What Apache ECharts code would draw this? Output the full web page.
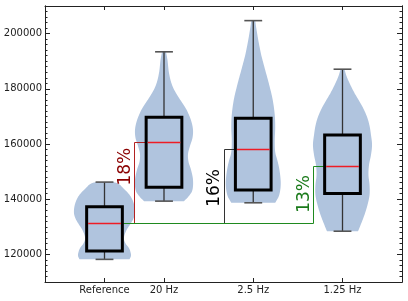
<!DOCTYPE html>
<html><head><meta charset="utf-8">
<script src="https://cdn.jsdelivr.net/npm/echarts@6/dist/echarts.min.js"></script>
<style>html,body{margin:0;padding:0;background:#fff}#c{width:408px;height:301px}</style>
</head><body><div id="c"></div>
<script>
// ---- data ----
const categories = ['Reference', '20 Hz', '2.5 Hz', '1.25 Hz'];
const positions = [1 / 3, 1, 2, 3];
const whiskerLow = [118200, 139300, 138700, 128400];
const q1 = [121200, 144300, 143300, 142100];
const medians = [131300, 160800, 158100, 151900];
const q3 = [137300, 169700, 169300, 163300];
const whiskerHigh = [146200, 193400, 204700, 187100];
const yTickLabels = [120000, 140000, 160000, 180000, 200000];

// violin outlines: value levels and half-widths (x-axis units)
const violinRefValues = [146200, 145500, 144000, 142000, 140000, 137500, 135000, 133000, 131000, 129000, 127000, 125500, 124000, 122500, 121000, 119500, 118200];
const violinRefWidths = [0.10, 0.16, 0.21, 0.27, 0.31, 0.336, 0.342, 0.325, 0.29, 0.25, 0.224, 0.218, 0.235, 0.27, 0.29, 0.297, 0.28];
const violin20Values = [193400, 190400, 185700, 181400, 177800, 173400, 170500, 168000, 165100, 162200, 159300, 156400, 153500, 150600, 147000, 143400, 141200, 139300];
const violin20Widths = [0.022, 0.039, 0.056, 0.09, 0.146, 0.235, 0.28, 0.308, 0.325, 0.319, 0.291, 0.269, 0.275, 0.303, 0.325, 0.319, 0.28, 0.224];
const violin25Values = [204700, 202000, 197700, 192200, 186800, 181400, 176000, 170500, 165800, 161500, 157100, 153500, 149900, 145500, 141500, 138700];
const violin25Widths = [0.022, 0.034, 0.056, 0.09, 0.134, 0.179, 0.218, 0.241, 0.246, 0.241, 0.246, 0.275, 0.297, 0.308, 0.291, 0.246];
const violin125Values = [187100, 184600, 182100, 178800, 176000, 173100, 169800, 166600, 163300, 159700, 156000, 152400, 148800, 145200, 141500, 137900, 134300, 131000, 128400];
const violin125Widths = [0.022, 0.045, 0.078, 0.129, 0.179, 0.23, 0.275, 0.303, 0.319, 0.331, 0.319, 0.297, 0.291, 0.303, 0.303, 0.28, 0.246, 0.207, 0.174];

const pctLabels = ['18%', '16%', '13%'];
const pctLabelValues = [151800, 144100, 141900];
const pctTextColors = ['#8b0000', '#000000', '#1a7a1a'];
const bracketColors = ['#b22222', '#333333', '#1f8a1f'];

// ---- rendering ----
const violinValues = [violinRefValues, violin20Values, violin25Values, violin125Values];
const violinWidths = [violinRefWidths, violin20Widths, violin25Widths, violin125Widths];
const BOX_HW = 0.2, CAP_HW = 0.1;
const FONT = '"DejaVu Sans", sans-serif';

function catmull(pts, n) {
  const out = [];
  for (let i = 0; i < pts.length - 1; i++) {
    const p0 = pts[Math.max(i - 1, 0)], p1 = pts[i], p2 = pts[i + 1], p3 = pts[Math.min(i + 2, pts.length - 1)];
    for (let s = 0; s < n; s++) {
      const t = s / n, t2 = t * t, t3 = t2 * t;
      const f = (a, b, c, d) => 0.5 * (2 * b + (-a + c) * t + (2 * a - 5 * b + 4 * c - d) * t2 + (-a + 3 * b - 3 * c + d) * t3);
      out.push([f(p0[0], p1[0], p2[0], p3[0]), f(p0[1], p1[1], p2[1], p3[1])]);
    }
  }
  out.push(pts[pts.length - 1]);
  return out;
}

function violinItem(params, api) {
  const i = params.dataIndex, p = positions[i];
  const vals = violinValues[i], hw = violinWidths[i];
  const right = vals.map((v, k) => api.coord([p + hw[k], v]));
  const left = vals.map((v, k) => api.coord([p - hw[k], v]));
  const r = catmull(right, 8), l = catmull(left, 8).reverse();
  return { type: 'polygon', shape: { points: r.concat(l) }, style: { fill: '#b0c4de', stroke: null } };
}

function bracketItem(params, api) {
  const k = params.dataIndex, t = k + 1;
  const xb = positions[t] - 1 / 3;
  const last = k === pctLabels.length - 1;
  // the outermost bracket's baseline is drawn over the others' shared baseline
  const raw = [];
  if (last) raw.push(api.coord([positions[0] + BOX_HW, medians[0]]));
  raw.push(api.coord([xb, medians[0]]), api.coord([xb, medians[t]]), api.coord([positions[t] - BOX_HW, medians[t]]));
  const pts = raw.map(q => [Math.round(q[0]) + 0.5, Math.round(q[1]) + 0.5]);
  const tc = api.coord([xb, pctLabelValues[k]]);
  return {
    type: 'group', children: [
      { type: 'polyline', shape: { points: pts }, style: { stroke: bracketColors[k], lineWidth: 1, fill: null } },
      { type: 'text', x: tc[0] - 8.5, y: tc[1], rotation: Math.PI / 2,
        style: { text: pctLabels[k], fill: pctTextColors[k], font: '17px ' + FONT, align: 'center', verticalAlign: 'middle' } }
    ]
  };
}

function boxItem(params, api) {
  const i = params.dataIndex, p = positions[i];
  const c = v => api.coord([p, v]);
  const tl = api.coord([p - BOX_HW, q3[i]]), br = api.coord([p + BOX_HW, q1[i]]);
  const ml = api.coord([p - BOX_HW, medians[i]]), mr = api.coord([p + BOX_HW, medians[i]]);
  const capL = api.coord([p - CAP_HW, 0])[0], capR = api.coord([p + CAP_HW, 0])[0];
  const hi = c(whiskerHigh[i]), lo = c(whiskerLow[i]), top = c(q3[i]), bot = c(q1[i]);
  const wStyle = { stroke: '#333', lineWidth: 1.3 };
  const cStyle = { stroke: '#555', lineWidth: 1.6 };
  const my = Math.round(ml[1]) + 0.5;
  return {
    type: 'group', children: [
      { type: 'line', shape: { x1: hi[0], y1: hi[1], x2: top[0], y2: top[1] }, style: wStyle },
      { type: 'line', shape: { x1: lo[0], y1: lo[1], x2: bot[0], y2: bot[1] }, style: wStyle },
      { type: 'line', shape: { x1: capL, y1: hi[1], x2: capR, y2: hi[1] }, style: cStyle },
      { type: 'line', shape: { x1: capL, y1: lo[1], x2: capR, y2: lo[1] }, style: cStyle },
      { type: 'rect', shape: { x: tl[0], y: tl[1], width: br[0] - tl[0], height: br[1] - tl[1] },
        style: { fill: '#b0c4de', stroke: '#000', lineWidth: 3 } },
      { type: 'line', z2: 10, shape: { x1: ml[0] + 1.5, y1: my, x2: mr[0] - 1.5, y2: my },
        style: { stroke: '#ee1c25', lineWidth: 1.3 } }
    ]
  };
}

const minorTicks = [];
for (let v = 110000; v <= 210000; v += 2000) minorTicks.push(v);

const axisLineStyle = { show: true, onZero: false, lineStyle: { color: '#222', width: 1 } };
function yAx(gi, pos, ticks, len, labels) {
  return {
    type: 'value', gridIndex: gi, min: 110000, max: 210000, position: pos, interval: 2000,
    axisLine: axisLineStyle,
    axisTick: { show: true, inside: true, length: len, customValues: ticks, lineStyle: { color: '#222', width: 1 } },
    axisLabel: labels ? { show: true, customValues: yTickLabels, formatter: v => String(v), margin: 3,
      color: '#222', fontFamily: 'DejaVu Sans', fontSize: 10 } : { show: false },
    splitLine: { show: false }
  };
}
const xTickVals = positions.slice();
function xAx(gi, pos, labels, show) {
  return {
    type: 'value', gridIndex: gi, show: show, min: -1 / 3, max: 11 / 3, position: pos,
    axisLine: axisLineStyle,
    axisTick: { show: true, inside: true, length: 4, customValues: xTickVals, lineStyle: { color: '#222', width: 1 } },
    axisLabel: labels ? { show: true, customValues: xTickVals, margin: 3, color: '#222', fontFamily: 'DejaVu Sans', fontSize: 10,
      formatter: v => { let best = 0; positions.forEach((p, i) => { if (Math.abs(p - v) < Math.abs(positions[best] - v)) best = i; }); return categories[best]; } } : { show: false },
    splitLine: { show: false }
  };
}

const gridBox = { left: 45, right: 6, top: 6, bottom: 19, containLabel: false };
const chart = echarts.init(document.getElementById('c'), null, { renderer: 'canvas' });
chart.setOption({
  animation: false,
  backgroundColor: '#fff',
  grid: [Object.assign({}, gridBox), Object.assign({}, gridBox)],
  xAxis: [xAx(0, 'bottom', true, true), xAx(0, 'top', false, true), xAx(1, 'bottom', false, false)],
  yAxis: [yAx(0, 'left', minorTicks, 2.5, true), yAx(0, 'right', minorTicks, 2.5, false),
          yAx(1, 'left', yTickLabels, 5, false), yAx(1, 'right', yTickLabels, 5, false)],
  series: [
    { type: 'custom', z: 2, xAxisIndex: 0, yAxisIndex: 0, renderItem: violinItem,
      data: positions.map((p, i) => [p, medians[i]]) },
    { type: 'custom', z: 3, xAxisIndex: 0, yAxisIndex: 0, renderItem: bracketItem,
      data: [1, 2, 3].map(t => [positions[t], medians[t]]) },
    { type: 'custom', z: 5, xAxisIndex: 0, yAxisIndex: 0, renderItem: boxItem,
      data: positions.map((p, i) => [p, medians[i]]) }
  ]
});
</script></body></html>
